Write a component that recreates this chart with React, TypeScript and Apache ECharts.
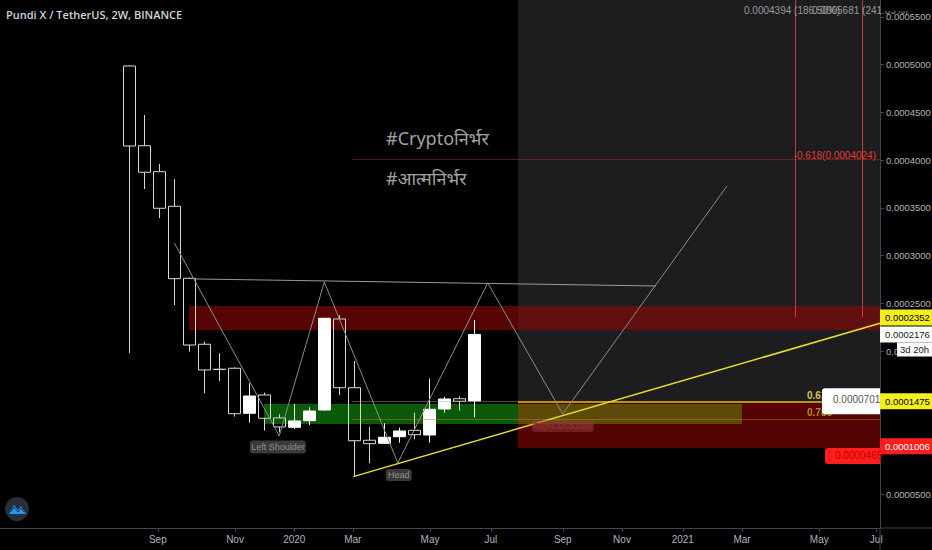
import React, { useEffect, useRef } from "react";
import * as echarts from "echarts";

// ---- candle data (2W bars, index 0 = first bar) ----
const barIndex = [0, 1, 2, 3, 4, 5, 6, 7, 8, 9, 10, 11, 12, 13, 14, 15, 16, 17, 18, 19, 20, 21, 22, 23];
const opens = [0.0004987, 0.0004152, 0.000388, 0.0003518, 0.0002764, 0.0002073, 0.0001812, 0.0001822, 0.000135, 0.0001542, 0.0001302, 0.0001204, 0.0001273, 0.0001385, 0.0002338, 0.0001618, 0.0001068, 0.0001036, 0.0001105, 0.0001172, 0.0001123, 0.0001395, 0.0001503, 0.0001479];
const closes = [0.0004149, 0.0003874, 0.0003497, 0.000276, 0.0002065, 0.0001804, 0.0001808, 0.0001346, 0.0001531, 0.0001298, 0.0001207, 0.000127, 0.0001374, 0.0002345, 0.0001618, 0.0001063, 0.0001032, 0.0001099, 0.0001165, 0.0001126, 0.0001392, 0.00015, 0.0001476, 0.0002176];
const lows = [0.0001982, 0.0003699, 0.0003395, 0.0002484, 0.0001995, 0.000156, 0.0001689, 0.0001315, 0.0001252, 0.0001168, 0.000115, 0.0001186, 0.0001228, 0.0001375, 0.0001542, 0.0000694, 0.0000827, 0.000103, 0.0001042, 0.0001078, 0.0001042, 0.0001357, 0.0001378, 0.0001308];
const highs = [0.0004995, 0.0004474, 0.0003961, 0.0003801, 0.000277, 0.00021, 0.0001979, 0.000183, 0.0001664, 0.0001566, 0.000134, 0.0001445, 0.0001413, 0.000235, 0.000238, 0.0001898, 0.0001207, 0.0001246, 0.00012, 0.0001357, 0.0001713, 0.0001524, 0.0001528, 0.0002327];

// ---- axes ----
const xTickPos = [1.9, 7.05, 11, 14.9, 20.05, 24.1, 28.9, 32.85, 36.9, 40.85, 46, 49.8];
const xTickLabels = ["Sep", "Nov", "2020", "Mar", "May", "Jul", "Sep", "Nov", "2021", "Mar", "May", "Jul"];
const yTickValues = [0.00005, 0.0001, 0.00015, 0.0002, 0.00025, 0.0003, 0.00035, 0.0004, 0.00045, 0.0005, 0.00055];
const X_MIN = -8.62;
const X_MAX = 50.05;
const Y_MIN = 0.0000149;
const Y_MAX = 0.0005678;

// ---- drawings ----
const patternX = [3, 10, 13, 17.9, 23.9, 28.9, 39.85];
const patternY = [0.0003134, 0.0001113, 0.0002725, 0.000083, 0.0002715, 0.0001343, 0.000373];
const necklineX = [4.38, 35.11];
const necklineY = [0.0002757, 0.0002683];
const trendX = [14.93, 50.05];
const trendY = [0.0000687, 0.0002293];

const resistancePrice = 0.0002352;
const lastPrice = 0.0002176;
const fibMinus618 = 0.0004012;
const fib618 = 0.0001475;
const fib786 = 0.0001291;
const supportPrice = 0.0001006;
const futureStart = 25.91;
const fibStart = 14.85;
const redZoneStart = 3.98;
const redZone = [0.0002222, 0.0002474];
const greenZoneX = [8.98, 40.85];
const greenZone = [0.0001238, 0.0001448];
const lowerRedZone = [0.0000987, 0.0001475];
const rangeLinesX = [44.41, 48.88];

const FONT = "'Liberation Sans', Arial, sans-serif";
const AXIS_FS = 9.5;

export default function App() {
  const ref = useRef<HTMLDivElement>(null);
  useEffect(() => {
    document.body.style.margin = "0";
    document.body.style.background = "#000";
    const chart = echarts.init(ref.current!, null, { renderer: "svg" });
    const candles = barIndex.map((i, k) => [i, opens[k], closes[k], lows[k], highs[k]]);
    const nearestLabel = (v: number) => {
      let best = 0;
      xTickPos.forEach((p, k) => {
        if (Math.abs(p - v) < Math.abs(xTickPos[best] - v)) best = k;
      });
      return xTickLabels[best];
    };
    const seg = (x1: number, y1: number, x2: number, y2: number, lineStyle: any) => [
      { coord: [x1, y1], lineStyle },
      { coord: [x2, y2] },
    ];
    const option: any = {
      animation: false,
      backgroundColor: "#000000",
      grid: { left: 0, right: 52, top: 0, bottom: 22, outerBoundsMode: "none", containLabel: false },
      xAxis: {
        type: "value",
        min: X_MIN,
        max: X_MAX,
        splitLine: { show: false },
        axisLine: { show: true, onZero: false, lineStyle: { color: "#434651", width: 1 } },
        axisTick: { show: true, customValues: xTickPos, length: 4, lineStyle: { color: "#434651" } },
        axisLabel: {
          customValues: xTickPos,
          formatter: (v: number) => nearestLabel(v),
          color: "#b2b5be",
          fontSize: 10,
          fontFamily: FONT,
          margin: 6,
        },
      },
      yAxis: {
        type: "value",
        position: "right",
        min: Y_MIN,
        max: Y_MAX,
        splitLine: { show: false },
        axisLine: { show: true, onZero: false, lineStyle: { color: "#434651", width: 1 } },
        axisTick: { show: true, customValues: yTickValues, length: 4, lineStyle: { color: "#434651" } },
        axisLabel: {
          customValues: yTickValues,
          formatter: (v: number) => v.toFixed(7),
          color: "#b2b5be",
          fontSize: AXIS_FS,
          fontFamily: FONT,
          margin: 6,
        },
      },
      series: [
        {
          name: "zones",
          type: "line",
          z: 1,
          data: [[X_MIN, Y_MIN]],
          symbol: "none",
          lineStyle: { opacity: 0 },
          silent: true,
          markArea: {
            silent: true,
            data: [
              [{ coord: [futureStart, lowerRedZone[0]], itemStyle: { color: "#1d1d1f" } }, { coord: [X_MAX, Y_MAX] }],
              [{ coord: [redZoneStart, redZone[0]], itemStyle: { color: "rgba(140,6,6,0.62)" } }, { coord: [X_MAX, redZone[1]] }],
              [{ coord: [futureStart, lowerRedZone[0]], itemStyle: { color: "#560303" } }, { coord: [X_MAX, lowerRedZone[1]] }],
              [{ coord: [greenZoneX[0], greenZone[0]], itemStyle: { color: "#0a5a0a" } }, { coord: [futureStart, greenZone[1]] }],
              [{ coord: [futureStart, greenZone[0]], itemStyle: { color: "#5c4a08" } }, { coord: [greenZoneX[1], greenZone[1]] }],
            ],
          },
        },
        {
          name: "candles",
          type: "candlestick",
          z: 3,
          barWidth: 12,
          encode: { x: 0, y: [1, 2, 3, 4] },
          data: candles,
          itemStyle: {
            color: "#ffffff",
            color0: "rgba(0,0,0,0)",
            borderColor: "#ffffff",
            borderColor0: "#d8d8d8",
            borderWidth: 1,
          },
        },
        {
          name: "levels",
          type: "line",
          z: 4,
          data: [[X_MIN, Y_MIN]],
          symbol: "none",
          lineStyle: { opacity: 0 },
          silent: true,
          markLine: {
            silent: true,
            symbol: ["none", "none"],
            label: { show: false },
            data: [
              seg(fibStart, fibMinus618, X_MAX, fibMinus618, { color: "rgba(190,45,45,0.45)", width: 1, type: "solid" }),
              seg(fibStart, fib618, futureStart, fib618, { color: "rgba(170,170,130,0.45)", width: 1, type: "solid" }),
              seg(fibStart, fib786, X_MAX, fib786, { color: "rgba(205,115,35,0.5)", width: 1, type: "solid" }),
              seg(futureStart, fib618, X_MAX, fib618, { color: "#d8c61c", width: 1.5, type: "solid" }),
              seg(rangeLinesX[0], resistancePrice, rangeLinesX[0], Y_MAX, { color: "rgba(210,70,70,0.85)", width: 1, type: "solid" }),
              seg(rangeLinesX[1], resistancePrice, rangeLinesX[1], Y_MAX, { color: "rgba(210,70,70,0.85)", width: 1, type: "solid" }),
              { yAxis: lastPrice, lineStyle: { color: "#b4b4b4", width: 1.5, type: "solid" } },
              { yAxis: resistancePrice, lineStyle: { color: "#ecd820", width: 1.5, type: "solid" } },
            ],
          },
        },
        {
          name: "neckline",
          type: "line",
          z: 5,
          data: necklineX.map((x, k) => [x, necklineY[k]]),
          symbol: "none",
          lineStyle: { color: "#9a9a9a", width: 1 },
        },
        {
          name: "pattern",
          type: "line",
          z: 5,
          data: patternX.map((x, k) => [x, patternY[k]]),
          symbol: "none",
          lineStyle: { color: "#8c8c8c", width: 1 },
        },
        {
          name: "trend",
          type: "line",
          z: 6,
          data: trendX.map((x, k) => [x, trendY[k]]),
          symbol: "none",
          lineStyle: { color: "#ecdf28", width: 1.5 },
        },
      ],
    };
    chart.setOption(option);

    const px = (x: number, y: number) => chart.convertToPixel({ gridIndex: 0 }, [x, y]) as number[];
    const xr = px(X_MAX, Y_MAX)[0];
    const yb = px(X_MAX, Y_MIN)[1];
    const yOf = (p: number) => px(X_MAX, p)[1];
    const Z = 100;
    const rect = (x: number, y: number, w: number, h: number, fill: string, r: any = 0, z = Z) => ({
      type: "rect", z, shape: { x, y, width: w, height: h, r }, style: { fill },
    });
    const text = (x: number, y: number, t: string, fill: string, size = 10, align = "left", extra: any = {}, z = Z + 1) => ({
      type: "text", z, x, y,
      style: { text: t, fill, fontSize: size, fontFamily: FONT, align, verticalAlign: "middle", ...extra },
    });
    const tag = (p: number, t: string, bg: string, fg: string) => {
      const y = yOf(p);
      return [rect(xr, y - 8, 52, 16, bg), text(xr + 5, y, t, fg, AXIS_FS)];
    };
    const ls = px(9.91, 0.0000997);
    const hd = px(17.96, 0.0000704);
    const rs = px(28.91, 0.0001217);
    const yLast = yOf(lastPrice);
    const yF618 = yOf(fib618);
    const yF786 = yOf(fib786);
    const yFm = yOf(fibMinus618);
    const ySup = yOf(0.0000987);

    const graphics: any[] = [
      // axis line extensions
      { type: "line", z: Z, shape: { x1: xr, y1: yb, x2: 932, y2: yb }, style: { stroke: "#434651", lineWidth: 1 } },
      { type: "line", z: Z, shape: { x1: xr, y1: yb, x2: xr, y2: 550 }, style: { stroke: "#434651", lineWidth: 1 } },
      // title
      text(6, 14, "Pundi X / TetherUS, 2W, BINANCE", "#d1d4dc", 11, "left", { fontFamily: "'Open Sans', sans-serif", fontWeight: 600 }),
      // hashtags
      text(386, 138, "#Cryptoनिर्भर", "#a3a3a3", 18, "left", { fontFamily: "'Noto Sans', 'Noto Sans Devanagari', sans-serif" }),
      text(386, 178, "#आत्मनिर्भर", "#a3a3a3", 18, "left", { fontFamily: "'Noto Sans', 'Noto Sans Devanagari', sans-serif" }),
      // top range labels
      text(744, 10, "0.0004394 (186.50%)", "#9a9a9a", 10),
      text(812, 10, "0.0005681 (241.09%)", "#9a9a9a", 10),
      rect(xr + 1, 0, 52, 11, "#000000", 0, Z + 2),
      // fib -0.618 label
      text(876, yFm - 4, "-0.618(0.0004024)", "#e0393e", 10, "right"),
      // fib 0.618 / 0.786 labels
      text(807, yF618 - 6, "0.618", "#d8c84a", 10, "left", { fontWeight: "bold" }),
      text(807, yF786 - 6, "0.786", "#a8921c", 10, "left", { fontWeight: "bold" }),
      rect(822, yF618 - 13, xr - 822, 26, "#ffffff", [3, 0, 0, 3], Z + 2),
      text(833, yF618 - 2, "0.0000701", "#555555", 10, "left", {}, Z + 3),
      // red stop label
      rect(825, ySup, xr - 825, 16, "#ff1e1e", [3, 0, 0, 3], Z + 2),
      text(835, ySup + 8, "0.0000465", "#c40000", 10, "left", {}, Z + 3),
      // pattern labels
      rect(ls[0] - 28, ls[1] - 6.5, 56, 13, "#3a3a3a", 3),
      text(ls[0], ls[1], "Left Shoulder", "#8f8f8f", 9, "center"),
      rect(hd[0] - 13, hd[1] - 6, 26, 12, "#3a3a3a", 3),
      text(hd[0], hd[1], "Head", "#8f8f8f", 9, "center"),
      rect(rs[0] - 31, rs[1] - 6, 62, 12, "rgba(150,60,60,0.5)", 3),
      text(rs[0], rs[1], "Right Shoulder", "#8a3838", 9, "center"),
      // right axis price tags
      ...tag(resistancePrice, "0.0002352", "#f5ef1e", "#000000"),
      ...tag(lastPrice, "0.0002176", "#ffffff", "#131722"),
      rect(xr + 17, yLast + 8, 932 - xr - 17, 14, "#ffffff"),
      text(xr + 20, yLast + 15, "3d 20h", "#131722", AXIS_FS),
      ...tag(fib618, "0.0001475", "#f5ef1e", "#000000"),
      ...tag(supportPrice, "0.0001006", "#ff1e1e", "#ffffff"),
      // logo
      { type: "circle", z: Z, shape: { cx: 17, cy: 509, r: 12 }, style: { fill: "#2a2e39" } },
      {
        type: "polygon", z: Z + 1,
        shape: { points: [[9, 514], [14, 505], [18, 510], [21, 506], [26, 514]] },
        style: { fill: "#2196f3" },
      },
      {
        type: "polyline", z: Z + 2,
        shape: { points: [[11, 512], [14, 507], [18, 512], [21, 508], [24, 512]] },
        style: { stroke: "#1a3a5c", lineWidth: 1, fill: "none" },
      },
    ];
    chart.setOption({ graphic: { elements: graphics } });
    return () => chart.dispose();
  }, []);
  return <div ref={ref} style={{ width: 932, height: 550 }} />;
}
